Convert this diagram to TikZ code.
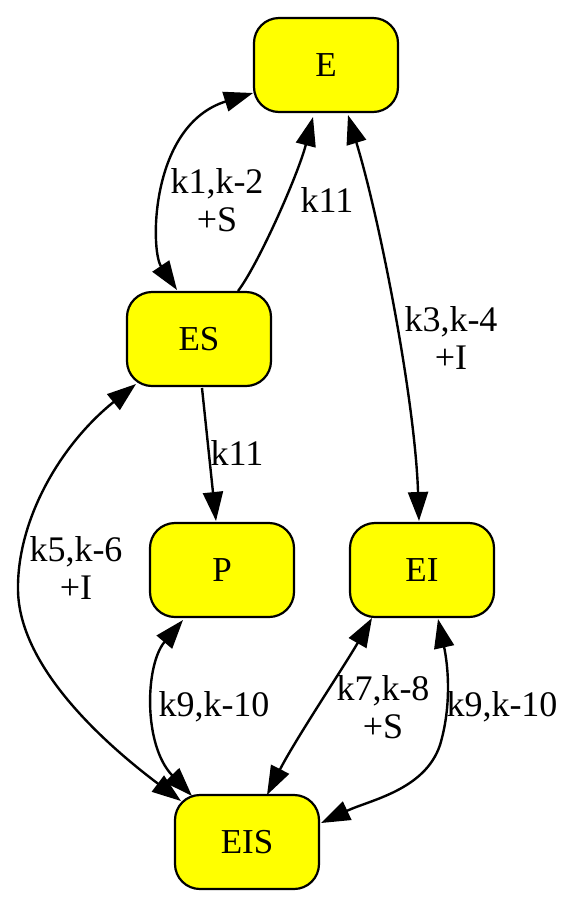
\documentclass[tikz,border=0pt]{standalone}
\usepackage{fontspec}
\setmainfont{Liberation Serif}
\usetikzlibrary{arrows.meta,calc}
\definecolor{nodeyellow}{HTML}{FFFF00}
\begin{document}
\begin{tikzpicture}[x=1pt,y=-1pt,
  state/.style={draw=black,line width=2.2pt,fill=nodeyellow,rounded corners=25pt,
    minimum width=144pt,minimum height=94pt,inner sep=0pt,
    font=\fontsize{35}{38}\selectfont},
  lab/.style={align=center,inner sep=0pt,font=\fontsize{36}{38}\selectfont},
  conn/.style={line width=2.4pt,draw=black},
  tip/.style={-{Triangle[length=29pt,width=20pt]}},
  bitip/.style={{Triangle[length=29pt,width=20pt]}-{Triangle[length=29pt,width=20pt]}}]
\useasboundingbox (0,0) rectangle (561,898);
\fill[white] (0,0) rectangle (561,898);

\node[state] (E) at (326,65) {E};
\node[state] (ES) at (199,339) {ES};
\node[state] (P) at (222,570) {P};
\node[state] (EI) at (422,570) {EI};
\node[state] (EIS) at (247,842) {EIS};

% E <-> ES
\draw[conn,bitip] ($(E)+(-73,28)$) .. controls (150,125) and (150,250) .. ($(ES)+(-22,-49)$);
% ES -> E
\draw[conn,tip] ($(ES)+(39,-48)$) .. controls (258,265) and (298,175) .. ($(E)+(-13,52)$);
% E <-> EI
\draw[conn,bitip] ($(E)+(22,50)$) .. controls (380,220) and (415,400) .. ($(EI)+(-3,-49)$);
% ES -> P
\draw[conn,tip] ($(ES)+(3,49)$) -- ($(P)+(-6,-49)$);
% ES <-> EIS
\draw[conn,bitip] ($(ES)+(-63,45)$) .. controls (60,445) and (17,520) .. (18,590)
   .. controls (19,665) and (100,740) .. ($(EIS)+(-66,-41)$);
% P <-> EIS
\draw[conn,bitip] ($(P)+(-39,50)$) .. controls (145,665) and (143,745) .. ($(EIS)+(-55,-46)$);
% EI <-> EIS (k7)
\draw[conn,bitip] ($(EI)+(-50,48)$) .. controls (345,665) and (295,740) .. ($(EIS)+(20,-47)$);
% EI <-> EIS (k9)
\draw[conn,bitip] ($(EI)+(16,49)$) .. controls (448,665) and (452,705) .. (440,745)
   .. controls (425,790) and (370,800) .. ($(EIS)+(74,-19)$);

\node[lab] (l1) at (217,200) {k1,k-2\\+S};
\node[lab] (l2) at (327,200) {k11};
\node[lab] (l3) at (451,338) {k3,k-4\\+I};
\node[lab] (l4) at (237,453) {k11};
\node[lab] (l5) at (76,568) {k5,k-6\\+I};
\node[lab] (l6) at (214,707) {k9,k-10};
\node[lab] (l7) at (383,707) {k7,k-8\\+S};
\node[lab] (l8) at (502,707) {k9,k-10};
\end{tikzpicture}
\end{document}
